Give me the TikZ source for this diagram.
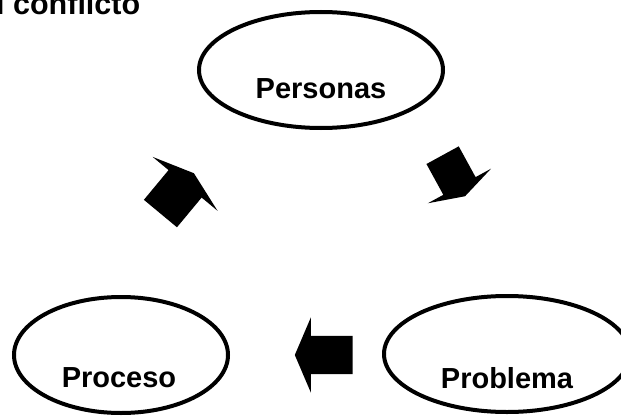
\documentclass[tikz,border=0pt]{standalone}
\usepackage{fontspec}
\setmainfont{Liberation Sans}
\usetikzlibrary{shapes.geometric,shapes.arrows}

\begin{document}
\begin{tikzpicture}[x=1pt, y=1pt,
    bubble/.style={draw, ellipse, line width=4pt, minimum height=116pt, inner sep=0pt},
    word/.style={font=\fontsize{29}{34}\selectfont\bfseries},
    blk/.style={single arrow, fill=black, draw=none, anchor=tail, inner xsep=0pt, minimum width=0pt}]
  \useasboundingbox (0,0) rectangle (621,416);
  \node[word, font=\fontsize{30.5}{36}\selectfont\bfseries, anchor=base west, inner sep=0pt] (ttl) at (-4,401.5) {l conflicto};
  \node[bubble, minimum width=244pt, label={[word, yshift=-19pt]center:Personas}] (pers) at (321,346) {};
  \node[bubble, minimum width=214pt, label={[word, xshift=-2pt, yshift=-23pt]center:Proceso}] (proc) at (121,61) {};
  \node[bubble, minimum width=246pt, label={[word, yshift=-24pt]center:Problema}] (prob) at (507,62) {};
  % block arrows: tail x/y, angle, length, half shaft, head extend, tip angle
  \foreach \i/\x/\y/\r/\l/\s/\e/\t in {1/160.3/202.3/50.3/52.4/21.3/20.7/143.8,
                                        2/352.7/61/180/57.7/19/18.5/133.7,
                                        3/442.5/261/-61.3/46.8/18.2/17.6/144}
    \node[blk, rotate=\r, minimum height=\l, inner ysep=\s, single arrow head extend=\e,
          single arrow tip angle=\t] (a\i) at (\x,\y) {};
\end{tikzpicture}
\end{document}
